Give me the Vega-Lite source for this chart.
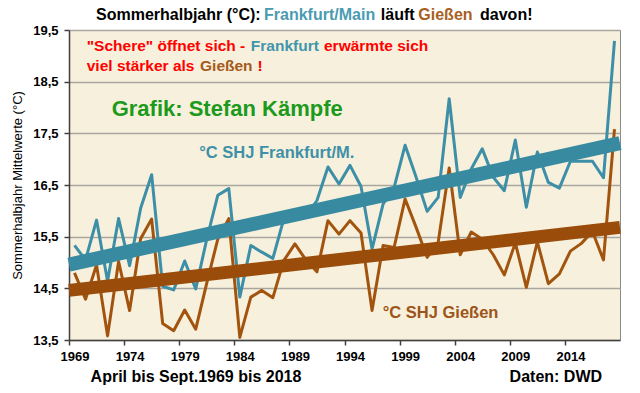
{
  "$schema": "https://vega.github.io/schema/vega-lite/v6.json",
  "width": 551,
  "height": 310,
  "autosize": {"type": "none"},
  "padding": {"left": 69, "top": 30, "right": 20, "bottom": 53},
  "background": "#FFFFFF",
  "config": {
    "view": {"fill": "#F7F0DC", "stroke": "#8A8A8A", "strokeWidth": 1},
    "font": "Liberation Sans",
    "axis": {
      "labelFont": "Liberation Sans",
      "titleFont": "Liberation Sans",
      "domainColor": "#404040",
      "tickColor": "#404040",
      "labelColor": "#000000",
      "labelFontWeight": "bold",
      "labelFontSize": 13
    }
  },
  "datasets": {
    "temps": [
      {"year": 1969, "Frankfurt/Main": 15.33, "Gießen": 14.8},
      {"year": 1970, "Frankfurt/Main": 15.05, "Gießen": 14.29},
      {"year": 1971, "Frankfurt/Main": 15.82, "Gießen": 14.95},
      {"year": 1972, "Frankfurt/Main": 14.64, "Gießen": 13.58},
      {"year": 1973, "Frankfurt/Main": 15.85, "Gießen": 15.02},
      {"year": 1974, "Frankfurt/Main": 14.94, "Gießen": 14.07},
      {"year": 1975, "Frankfurt/Main": 16.05, "Gießen": 15.46},
      {"year": 1976, "Frankfurt/Main": 16.7, "Gießen": 15.84},
      {"year": 1977, "Frankfurt/Main": 14.54, "Gießen": 13.82},
      {"year": 1978, "Frankfurt/Main": 14.47, "Gießen": 13.68},
      {"year": 1979, "Frankfurt/Main": 15.03, "Gießen": 14.08},
      {"year": 1980, "Frankfurt/Main": 14.49, "Gießen": 13.71},
      {"year": 1981, "Frankfurt/Main": 15.45, "Gießen": 14.6},
      {"year": 1982, "Frankfurt/Main": 16.3, "Gießen": 15.45},
      {"year": 1983, "Frankfurt/Main": 16.43, "Gießen": 15.85},
      {"year": 1984, "Frankfurt/Main": 14.33, "Gießen": 13.55},
      {"year": 1985, "Frankfurt/Main": 15.33, "Gießen": 14.33},
      {"year": 1986, "Frankfurt/Main": 15.2, "Gießen": 14.46},
      {"year": 1987, "Frankfurt/Main": 15.08, "Gießen": 14.32},
      {"year": 1988, "Frankfurt/Main": 15.85, "Gießen": 15.04},
      {"year": 1989, "Frankfurt/Main": 15.95, "Gießen": 15.36},
      {"year": 1990, "Frankfurt/Main": 15.9, "Gießen": 15.05},
      {"year": 1991, "Frankfurt/Main": 16.2, "Gießen": 14.82},
      {"year": 1992, "Frankfurt/Main": 16.85, "Gießen": 15.81},
      {"year": 1993, "Frankfurt/Main": 16.52, "Gießen": 15.55},
      {"year": 1994, "Frankfurt/Main": 16.88, "Gießen": 15.81},
      {"year": 1995, "Frankfurt/Main": 16.47, "Gießen": 15.57},
      {"year": 1996, "Frankfurt/Main": 15.26, "Gießen": 14.07},
      {"year": 1997, "Frankfurt/Main": 16.13, "Gießen": 15.33},
      {"year": 1998, "Frankfurt/Main": 16.45, "Gießen": 15.29},
      {"year": 1999, "Frankfurt/Main": 17.27, "Gießen": 16.23},
      {"year": 2000, "Frankfurt/Main": 16.65, "Gießen": 15.68},
      {"year": 2001, "Frankfurt/Main": 15.99, "Gießen": 15.1},
      {"year": 2002, "Frankfurt/Main": 16.26, "Gießen": 15.39},
      {"year": 2003, "Frankfurt/Main": 18.17, "Gießen": 16.83},
      {"year": 2004, "Frankfurt/Main": 16.26, "Gießen": 15.15},
      {"year": 2005, "Frankfurt/Main": 16.81, "Gießen": 15.59},
      {"year": 2006, "Frankfurt/Main": 17.2, "Gießen": 15.45},
      {"year": 2007, "Frankfurt/Main": 16.65, "Gießen": 15.15},
      {"year": 2008, "Frankfurt/Main": 16.39, "Gießen": 14.76},
      {"year": 2009, "Frankfurt/Main": 17.37, "Gießen": 15.38},
      {"year": 2010, "Frankfurt/Main": 16.07, "Gießen": 14.52},
      {"year": 2011, "Frankfurt/Main": 17.14, "Gießen": 15.4},
      {"year": 2012, "Frankfurt/Main": 16.55, "Gießen": 14.59},
      {"year": 2013, "Frankfurt/Main": 16.44, "Gießen": 14.78},
      {"year": 2014, "Frankfurt/Main": 16.96, "Gießen": 15.22},
      {"year": 2015, "Frankfurt/Main": 16.96, "Gießen": 15.37},
      {"year": 2016, "Frankfurt/Main": 16.96, "Gießen": 15.6},
      {"year": 2017, "Frankfurt/Main": 16.64, "Gießen": 15.05},
      {"year": 2018, "Frankfurt/Main": 19.29, "Gießen": 17.58}
    ],
    "trends": [
      {"year": 1968.5, "station": "Frankfurt/Main", "value": 14.96},
      {"year": 2018.5, "station": "Frankfurt/Main", "value": 17.31},
      {"year": 1968.5, "station": "Gießen", "value": 14.46},
      {"year": 2018.5, "station": "Gießen", "value": 15.68}
    ],
    "notes": [
      {"kind": "titleBlack", "t": "Sommerhalbjahr (°C):", "year": 1970.95, "value": 19.79},
      {"kind": "titleTeal", "t": "Frankfurt/Main", "year": 1986.2, "value": 19.79},
      {"kind": "titleBlack", "t": "läuft", "year": 1996.8, "value": 19.79},
      {"kind": "titleBrown", "t": "Gießen", "year": 2000.2, "value": 19.79},
      {"kind": "titleBlack", "t": "davon!", "year": 2005.8, "value": 19.79},
      {"kind": "red", "t": "\"Schere\" öffnet sich -", "year": 1970.11, "value": 19.19},
      {"kind": "tealIn", "t": "Frankfurt", "year": 1985.0, "value": 19.19},
      {"kind": "red", "t": "erwärmte sich", "year": 1991.64, "value": 19.19},
      {"kind": "red", "t": "viel stärker als", "year": 1970.11, "value": 18.8},
      {"kind": "brownIn", "t": "Gießen", "year": 1980.39, "value": 18.8},
      {"kind": "red", "t": "!", "year": 1985.6, "value": 18.8},
      {"kind": "green", "t": "Grafik: Stefan Kämpfe", "year": 1972.37, "value": 17.98},
      {"kind": "labelTeal", "t": "°C SHJ Frankfurt/M.", "year": 1980.32, "value": 17.11},
      {"kind": "labelBrown", "t": "°C SHJ Gießen", "year": 1996.97, "value": 14.02},
      {"kind": "footer", "t": "April bis Sept.1969 bis 2018", "year": 1970.46, "value": 12.78},
      {"kind": "footer2", "t": "Daten: DWD", "year": 2016.87, "value": 12.78}
    ]
  },
  "encoding": {
    "x": {
      "field": "year",
      "type": "quantitative",
      "scale": {"domain": [1968.5, 2018.5], "nice": false, "zero": false},
      "axis": {
        "title": null,
        "values": [1969, 1974, 1979, 1984, 1989, 1994, 1999, 2004, 2009, 2014, 2019],
        "format": "d",
        "labelExpr": "datum.value > 2018 ? '' : datum.label",
        "tickOffset": -5.51,
        "labelOffset": 5.51,
        "tickSize": 5,
        "labelPadding": 5,
        "grid": false,
        "domainWidth": 1.5,
        "tickWidth": 1.5
      }
    },
    "y": {
      "field": "value",
      "type": "quantitative",
      "scale": {"domain": [13.5, 19.5], "nice": false, "zero": false},
      "axis": {
        "title": "Sommerhalbjahr Mittelwerte (°C)",
        "titleFontSize": 13,
        "titleFontWeight": "normal",
        "titleColor": "#000000",
        "titlePadding": 8,
        "values": [13.5, 14.5, 15.5, 16.5, 17.5, 18.5, 19.5],
        "labelExpr": "replace(format(datum.value, '.1f'), '.', ',')",
        "tickSize": 5,
        "labelPadding": 6,
        "grid": true,
        "gridColor": "#A9A6A0",
        "gridWidth": 1.3,
        "domainWidth": 1.5,
        "tickWidth": 1.5
      }
    }
  },
  "layer": [
    {
      "data": {"name": "temps"},
      "transform": [{"fold": ["Frankfurt/Main", "Gießen"], "as": ["station", "value"]}],
      "mark": {"type": "line", "strokeWidth": 3, "strokeJoin": "round"},
      "encoding": {
        "color": {
          "field": "station",
          "type": "nominal",
          "scale": {"domain": ["Frankfurt/Main", "Gießen"], "range": ["#3D8FA7", "#A2540F"]},
          "legend": null
        }
      }
    },
    {
      "data": {"name": "trends"},
      "transform": [{"filter": "datum.station === 'Frankfurt/Main'"}],
      "mark": {"type": "line", "strokeWidth": 14, "color": "#388AA1", "strokeCap": "butt"},
      "encoding": {}
    },
    {
      "data": {"name": "trends"},
      "transform": [{"filter": "datum.station === 'Gießen'"}],
      "mark": {"type": "line", "strokeWidth": 13, "color": "#9A4C0A", "strokeCap": "butt"},
      "encoding": {}
    },
    {
      "data": {"name": "notes"},
      "transform": [{"filter": "datum.kind === 'titleBlack'"}],
      "mark": {"type": "text", "align": "left", "baseline": "middle", "fontSize": 16, "fontWeight": "bold", "color": "#000000"},
      "encoding": {"text": {"field": "t"}}
    },
    {
      "data": {"name": "notes"},
      "transform": [{"filter": "datum.kind === 'titleTeal'"}],
      "mark": {"type": "text", "align": "left", "baseline": "middle", "fontSize": 16, "fontWeight": "bold", "color": "#4A9BB1"},
      "encoding": {"text": {"field": "t"}}
    },
    {
      "data": {"name": "notes"},
      "transform": [{"filter": "datum.kind === 'titleBrown'"}],
      "mark": {"type": "text", "align": "left", "baseline": "middle", "fontSize": 16, "fontWeight": "bold", "color": "#A8601F"},
      "encoding": {"text": {"field": "t"}}
    },
    {
      "data": {"name": "notes"},
      "transform": [{"filter": "datum.kind === 'red'"}],
      "mark": {"type": "text", "align": "left", "baseline": "middle", "fontSize": 15.5, "fontWeight": "bold", "color": "#FF0000"},
      "encoding": {"text": {"field": "t"}}
    },
    {
      "data": {"name": "notes"},
      "transform": [{"filter": "datum.kind === 'tealIn'"}],
      "mark": {"type": "text", "align": "left", "baseline": "middle", "fontSize": 15.5, "fontWeight": "bold", "color": "#4195AC"},
      "encoding": {"text": {"field": "t"}}
    },
    {
      "data": {"name": "notes"},
      "transform": [{"filter": "datum.kind === 'brownIn'"}],
      "mark": {"type": "text", "align": "left", "baseline": "middle", "fontSize": 15.5, "fontWeight": "bold", "color": "#A45A1A"},
      "encoding": {"text": {"field": "t"}}
    },
    {
      "data": {"name": "notes"},
      "transform": [{"filter": "datum.kind === 'green'"}],
      "mark": {"type": "text", "align": "left", "baseline": "middle", "fontSize": 22, "fontWeight": "bold", "color": "#1C9A1C"},
      "encoding": {"text": {"field": "t"}}
    },
    {
      "data": {"name": "notes"},
      "transform": [{"filter": "datum.kind === 'labelTeal'"}],
      "mark": {"type": "text", "align": "left", "baseline": "middle", "fontSize": 16.5, "fontWeight": "bold", "color": "#3E90A8"},
      "encoding": {"text": {"field": "t"}}
    },
    {
      "data": {"name": "notes"},
      "transform": [{"filter": "datum.kind === 'labelBrown'"}],
      "mark": {"type": "text", "align": "left", "baseline": "middle", "fontSize": 16.5, "fontWeight": "bold", "color": "#9D5418"},
      "encoding": {"text": {"field": "t"}}
    },
    {
      "data": {"name": "notes"},
      "transform": [{"filter": "datum.kind === 'footer'"}],
      "mark": {"type": "text", "align": "left", "baseline": "middle", "fontSize": 16, "fontWeight": "bold", "color": "#000000"},
      "encoding": {"text": {"field": "t"}}
    },
    {
      "data": {"name": "notes"},
      "transform": [{"filter": "datum.kind === 'footer2'"}],
      "mark": {"type": "text", "align": "right", "baseline": "middle", "fontSize": 16, "fontWeight": "bold", "color": "#000000"},
      "encoding": {"text": {"field": "t"}}
    }
  ]
}
